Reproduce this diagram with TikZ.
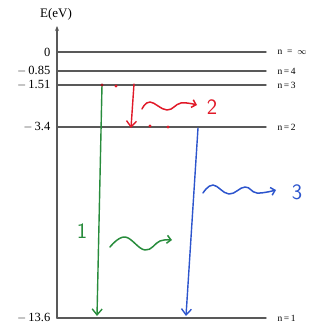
\documentclass[tikz,border=0pt]{standalone}
\usepackage{fontspec}
\setmainfont{Liberation Serif}
\usetikzlibrary{arrows.meta}

\begin{document}
\begin{tikzpicture}[line width=1.3pt, line cap=round, line join=round, >={Straight Barb[length=6pt,width=10pt]}, x=1pt, y=-1pt,
  level/.style={draw=black!65, line width=1.4pt},
  elabel/.style={anchor=east, inner sep=1pt, font=\fontsize{12.5}{14}\selectfont},
  nlabel/.style={anchor=west, inner sep=1pt, font=\fontsize{9.5}{11}\selectfont},
  jump/.style={->, line width=1.4pt},
  photon/.style={-{Straight Barb[length=4pt,width=8pt]}, line width=1.5pt},
  hand/.style={font=\sffamily\fontsize{22}{24}\selectfont}]
  \useasboundingbox (0,0) rectangle (320,329);
  \definecolor{gr}{RGB}{40,140,60}
  \definecolor{rd}{RGB}{225,25,40}
  \definecolor{bl}{RGB}{45,85,205}
  % energy axis
  \coordinate (bot) at (57,318);
  \coordinate (top) at (57,26);
  \draw[level, -{Stealth[length=5pt,width=4pt]}] (bot) -- (top);
  \node[font=\fontsize{13}{15}\selectfont] (axis) at (56,14) {E(eV)};
  % levels
  \foreach \y/\k/\e/\n in {52/inf/0/{n\enspace=\enspace$\infty$}, 71/4/{$-$\,0.85}/{n\,=\,4},
      85/3/{$-$\,1.51}/{n\,=\,3}, 127/2/{$-$\,3.4}/{n\,=\,2}, 318/1/{$-$\,13.6}/{n\,=\,1}} {
    \coordinate (L\k) at (57,\y);
    \coordinate (R\k) at (266,\y);
    \draw[level] (L\k) -- (R\k);
    \node[elabel] (e\k) at (52,\y) {\e};
    \node[nlabel] (n\k) at (276,\y) {\n};
  }
  % transitions
  \coordinate (g1) at (102,85);
  \coordinate (g2) at (97,316);
  \coordinate (r1) at (134,84);
  \coordinate (r2) at (131,128);
  \coordinate (b1) at (198,128);
  \coordinate (b2) at (186,316);
  \draw[jump, gr] (g1) -- (g2);
  \draw[jump, rd] (r1) -- (r2);
  \draw[jump, bl] (b1) -- (b2);
  \fill[rd!70!black] (g1) circle (1.7);
  \fill[rd] (116,86) circle (1.6) (150,126) circle (1.6) (168,127) circle (1.6);
  % photons
  \coordinate (pg1) at (110,247);
  \coordinate (pg2) at (172,240);
  \coordinate (pr1) at (142,109);
  \coordinate (pr2) at (197,105);
  \coordinate (pb1) at (203,193);
  \coordinate (pb2) at (276,190);
  \draw[photon, gr] plot[smooth, tension=0.7] coordinates {(pg1) (125,237) (145,250) (160,241) (pg2)};
  \draw[photon, rd] plot[smooth, tension=0.7] coordinates {(pr1) (150,102) (167,110) (181,103) (pr2)};
  \draw[photon, bl] plot[smooth, tension=0.7] coordinates {(pb1) (213,185) (229,194) (245,187) (257,193) (pb2)};
  \node[hand, gr] (t1) at (82,231) {1};
  \node[hand, rd] (t2) at (212,107) {2};
  \node[hand, bl] (t3) at (297,192) {3};
\end{tikzpicture}
\end{document}
